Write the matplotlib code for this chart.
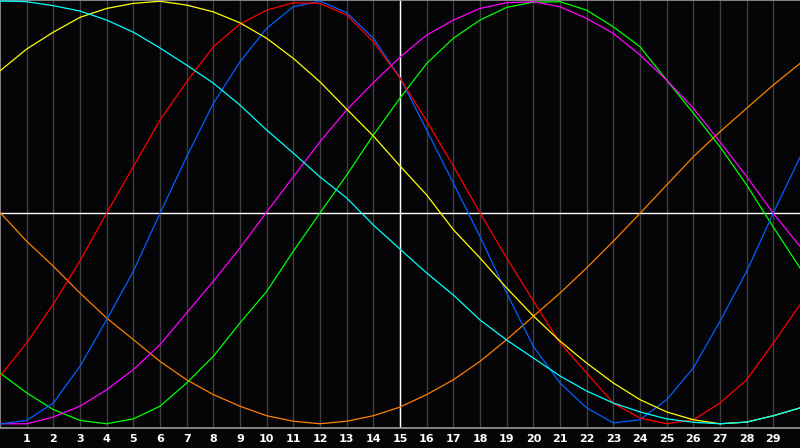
import matplotlib
matplotlib.use("Agg")
import matplotlib.pyplot as plt
import numpy as np

# sample points 0..30 (scale -1..1)
days = np.arange(0, 31)

cyan = [1.000, 0.997, 0.978, 0.953, 0.910, 0.853, 0.778, 0.697, 0.612, 0.508,
        0.390, 0.281, 0.168, 0.069, -0.059, -0.173, -0.286, -0.390, -0.508, -0.603,
        -0.688, -0.773, -0.844, -0.901, -0.943, -0.976, -0.992, -0.999, -0.991, -0.961,
        -0.924]
yellow = [0.670, 0.773, 0.853, 0.923, 0.965, 0.989, 0.999, 0.981, 0.949, 0.897,
          0.824, 0.729, 0.618, 0.489, 0.362, 0.220, 0.083, -0.081, -0.215, -0.357,
          -0.489, -0.608, -0.712, -0.806, -0.885, -0.943, -0.980, -0.999, -0.991, -0.961,
          -0.924]
red = [-0.774, -0.617, -0.433, -0.229, -0.002, 0.217, 0.437, 0.618, 0.784, 0.891,
       0.957, 0.992, 0.989, 0.934, 0.808, 0.635, 0.433, 0.220, -0.002, -0.215,
       -0.418, -0.617, -0.759, -0.901, -0.972, -0.999, -0.980, -0.901, -0.791, -0.617,
       -0.436]
blue = [-1.000, -0.983, -0.901, -0.727, -0.507, -0.278, -0.004, 0.264, 0.516, 0.713,
        0.871, 0.973, 1.000, 0.945, 0.824, 0.638, 0.390, 0.139, -0.113, -0.381,
        -0.633, -0.806, -0.924, -0.995, -0.980, -0.885, -0.735, -0.514, -0.278, -0.002,
        0.261]
magenta = [-0.999, -0.999, -0.967, -0.916, -0.838, -0.743, -0.625, -0.475, -0.325, -0.168,
           0.002, 0.169, 0.335, 0.485, 0.614, 0.735, 0.839, 0.910, 0.965, 0.992,
           0.997, 0.973, 0.918, 0.847, 0.745, 0.626, 0.493, 0.334, 0.170, -0.004,
           -0.160]
green = [-0.759, -0.853, -0.932, -0.983, -0.999, -0.976, -0.916, -0.806, -0.680, -0.522,
         -0.373, -0.183, -0.002, 0.177, 0.366, 0.541, 0.705, 0.824, 0.910, 0.970,
         0.995, 0.997, 0.957, 0.878, 0.784, 0.626, 0.470, 0.311, 0.130, -0.069,
         -0.262]
orange = [0.000, -0.136, -0.254, -0.381, -0.499, -0.601, -0.704, -0.791, -0.861, -0.916,
          -0.961, -0.987, -0.999, -0.987, -0.961, -0.920, -0.861, -0.791, -0.704, -0.601,
          -0.491, -0.381, -0.262, -0.136, -0.004, 0.130, 0.264, 0.382, 0.493, 0.603,
          0.705]

tick_days = list(range(1, 30))

bg = "#050508"
fig = plt.figure(figsize=(8, 4.48), dpi=100, facecolor=bg)
ax = fig.add_axes([0, 20 / 448, 1, 428 / 448])
ax.set_facecolor(bg)

ax.set_xlim(0, 30)
ax.set_ylim(-1.019, 1.005)

for d in tick_days:
    ax.axvline(d, color="#3e3e3e", lw=1, zorder=1)
ax.axvline(15, color="white", lw=1, zorder=2)
ax.axhline(0, color="white", lw=1, zorder=2)

series = [
    (orange, "#ff8000"),
    (green, "#00ff00"),
    (magenta, "#ff00ff"),
    (blue, "#0060ff"),
    (red, "#ff0000"),
    (yellow, "#ffff00"),
    (cyan, "#00ffff"),
]
for vals, col in series:
    ax.plot(days, vals, color=col, lw=0.9, zorder=3)

ax.set_xticks(tick_days)
ax.set_xticklabels([str(d) for d in tick_days], color="white",
                   fontsize=8, fontweight="bold")
ax.tick_params(axis="x", length=0, pad=4)
ax.set_yticks([])

for s in ["left", "top", "bottom"]:
    ax.spines[s].set_color("#9a9a9a")
    ax.spines[s].set_linewidth(1.2)
ax.spines["right"].set_visible(False)

fig.savefig("out.png", dpi=100, facecolor=bg)
